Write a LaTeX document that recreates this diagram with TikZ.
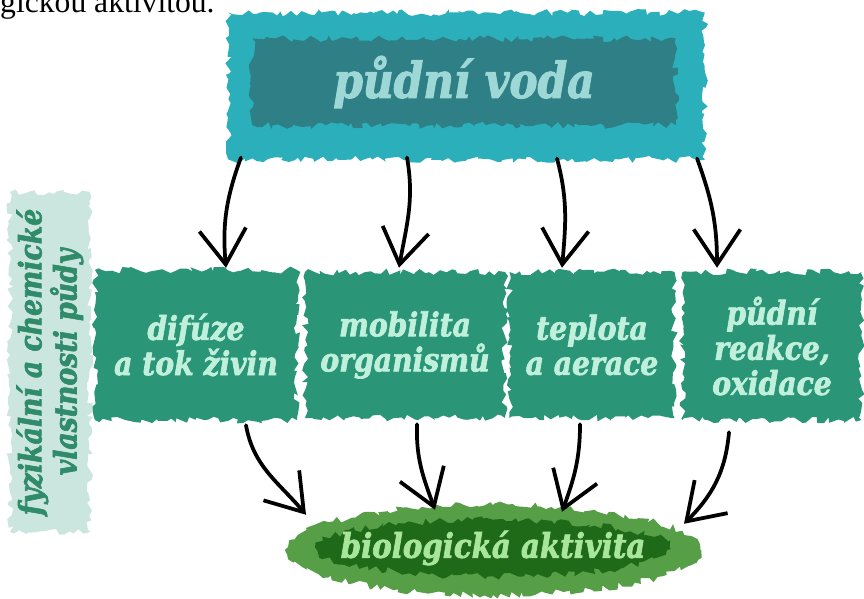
\documentclass[tikz,border=0pt]{standalone}
\usepackage{fontspec}
\setmainfont{DejaVu Serif}
\newfontfamily\labelfont[FakeStretch=0.86, FakeBold=2]{DejaVu Serif Bold Italic}
\newfontfamily\pagefont{Liberation Serif}
\usetikzlibrary{arrows.meta, calc, decorations.pathmorphing, shapes.geometric}

\definecolor{waterlight}{HTML}{2BB0BB}
\definecolor{waterdark}{HTML}{2F7F87}
\definecolor{watertext}{HTML}{9DD8D6}
\definecolor{factorfill}{HTML}{2A9577}
\definecolor{factortext}{HTML}{C0F0DC}
\definecolor{striplight}{HTML}{CBE6DE}
\definecolor{striptext}{HTML}{2F8B6A}
\definecolor{biolight}{HTML}{579F47}
\definecolor{biodark}{HTML}{1F6A18}
\definecolor{biotext}{HTML}{A8E69B}

\tikzstyle{rough}=[decorate, decoration={random steps, segment length=4pt, amplitude=3pt}]
\tikzstyle{labeltext}=[font=\labelfont\fontsize{28}{30}\selectfont]
\tikzstyle{factorbox}=[rectangle, rough, fill=factorfill, text=factortext, align=center, labeltext]
\tikzstyle{flow}=[line width=3.2pt, line cap=round, line join=round, -{Straight Barb[length=1.05cm, width=1.4cm]}]

\begin{document}
\begin{tikzpicture}[x=0.03cm, y=0.03cm]
	\clip (0,0) rectangle (864,599);
	\fill[white] (0,0) rectangle (864,599);
	% line of the page above
	\node[anchor=base west, inner sep=0pt, font=\pagefont\fontsize{27}{30}\selectfont] (page) at (0,586) {gickou aktivitou.};

	% soil water
	\node[rectangle, rough, fill=waterlight, minimum width=14.3cm, minimum height=4.4cm] (vodaOut) at (466.5,513) {};
	\node[rectangle, rough, fill=waterdark, text=watertext, minimum width=12.7cm, minimum height=2.6cm,
		font=\labelfont\fontsize{42}{44}\selectfont] (voda) at (464,517) {půdní voda};

	% side strip
	\node[rectangle, rough, fill=striplight, text=striptext, rotate=90, align=center, minimum width=10.2cm, minimum height=2.4cm,
		font=\labelfont\fontsize{26.5}{30}\selectfont] (vlastnosti) at (50,237) {fyzikální a chemické\\vlastnosti půdy};

	% factors
	\node[factorbox, minimum width=6.06cm, minimum height=4.5cm] (difuze) at (196,254) {difúze\\a tok živin};
	\node[factorbox, minimum width=6.0cm, minimum height=4.38cm] (mobilita) at (405,254) {mobilita\\organismů};
	\node[factorbox, minimum width=4.95cm, minimum height=4.38cm] (teplota) at (592,254) {teplota\\a aerace};
	\node[factorbox, minimum width=5.37cm, minimum height=4.44cm] (reakce) at (772,253) {půdní\\reakce,\\oxidace};

	% biological activity
	\node[ellipse, rough, fill=biolight, minimum width=12.45cm, minimum height=2.7cm] (bioOut) at (493,49) {};
	\node[ellipse, rough, fill=biodark, minimum width=10.6cm, minimum height=1.7cm] (bioIn) at (493,51) {};
	\node[text=biotext, font=\labelfont\fontsize{29}{32}\selectfont] (bio) at (bioIn) {biologická aktivita};

	% arrows
	\draw[flow] ($(vodaOut.south west)+(13,2)$) to[out=-110, in=95] ($(difuze.north)+(30,2)$);
	\draw[flow] ($(vodaOut.south)+(-59.5,2)$) to[out=-80, in=80] ($(mobilita.north)+(-6,4)$);
	\draw[flow] ($(vodaOut.south)+(90.5,1)$) to[out=-75, in=85] ($(teplota.north)+(-30,4)$);
	\draw[flow] ($(vodaOut.south east)+(-8,1)$) to[out=-70, in=90] ($(reakce.north)+(-55,4)$);

	\draw[flow] ($(difuze.south)+(50,-5)$) to[out=-80, in=130] ($(bioOut.north)+(-187,-10)$);
	\draw[flow] ($(mobilita.south)+(12,-6)$) to[out=-92, in=110] ($(bioOut.north)+(-58,-5)$);
	\draw[flow] ($(teplota.south)+(-12,-6)$) to[out=-90, in=70] ($(bioOut.north)+(69,-7)$);
	\draw[flow] ($(reakce.south)+(-43,-12)$) to[out=-95, in=45] ($(bioOut.north)+(191,-19)$);
\end{tikzpicture}
\end{document}
